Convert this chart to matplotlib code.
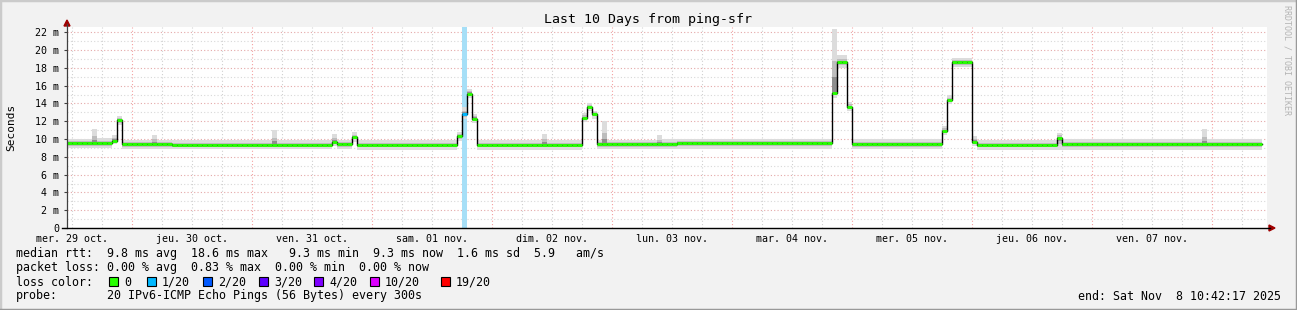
import matplotlib
matplotlib.use("Agg")
import matplotlib.pyplot as plt
import numpy as np
from matplotlib.lines import Line2D
from matplotlib.patches import Polygon, Rectangle

# hourly samples (10 days, 1 px = 12 min), stored as (value ms, hours) runs
median_runs = [
    (9.5, 9), (9.8, 1), (12.1, 1), (9.4, 10), (9.3, 32), (9.7, 1), (9.4, 3),
    (10.2, 1), (9.3, 20), (10.3, 1), (12.8, 1), (15.1, 1), (12.3, 1), (9.3, 21),
    (12.4, 1), (13.6, 1), (12.8, 1), (9.4, 16), (9.5, 31), (15.2, 1), (18.6, 2),
    (13.6, 1), (9.4, 18), (10.9, 1), (14.4, 1), (18.6, 4), (9.7, 1), (9.3, 16),
    (10.1, 1), (9.4, 40),
]
smoke_hi_runs = [
    (10.0, 5), (11.1, 1), (10.1, 3), (10.4, 1), (12.6, 1), (9.9, 6), (10.5, 1),
    (9.9, 23), (11.0, 1), (9.9, 11), (10.6, 1), (9.9, 3), (10.8, 1), (9.9, 20),
    (10.8, 1), (13.6, 1), (15.6, 1), (12.8, 1), (9.9, 13), (10.6, 1), (9.9, 7),
    (12.9, 1), (14.0, 1), (13.2, 1), (9.9, 1), (12.0, 1), (9.9, 10), (10.4, 1),
    (10.0, 34), (22.4, 1), (19.4, 2), (14.2, 1), (10.0, 18), (11.5, 1), (14.9, 1),
    (19.1, 4), (10.3, 1), (9.9, 16), (10.7, 1), (10.0, 28), (11.1, 1), (10.0, 11),
]
smoke_lo_runs = [
    (9.0, 9), (9.4, 1), (11.6, 1), (8.9, 42), (9.2, 1), (8.9, 3), (9.7, 1),
    (8.8, 20), (9.8, 1), (12.2, 1), (14.6, 1), (11.8, 1), (8.8, 21), (11.9, 1),
    (13.1, 1), (12.3, 1), (8.9, 47), (14.6, 1), (18.0, 2), (13.1, 1), (8.9, 18),
    (10.4, 1), (13.9, 1), (18.1, 4), (9.2, 1), (8.8, 57),
]
loss_hours = [79]
loss_pings = [1]

day_labels = ["mer. 29 oct.", "jeu. 30 oct.", "ven. 31 oct.", "sam. 01 nov.",
              "dim. 02 nov.", "lun. 03 nov.", "mar. 04 nov.", "mer. 05 nov.",
              "jeu. 06 nov.", "ven. 07 nov."]
loss_levels = ["0", "1/20", "2/20", "3/20", "4/20", "10/20", "19/20"]
loss_colors = ["#26ff00", "#00b8ff", "#0059ff", "#5e00ff", "#7e00ff", "#dd00ff", "#ff0000"]


def expand(runs):
    return np.concatenate([np.full(n, v) for v, n in runs])


W, H = 1297, 310
MONO = "DejaVu Sans Mono"


def fx(x):
    return x / W


def fy(y):
    return 1 - y / H


median = expand(median_runs)
hi = expand(smoke_hi_runs)
lo = expand(smoke_lo_runs)
hours = np.arange(len(median))
seg_colors = [loss_colors[0]] * len(median)
for h, n in zip(loss_hours, loss_pings):
    seg_colors[h] = loss_colors[n]

fig = plt.figure(figsize=(W / 100, H / 100), dpi=100, facecolor="#f2f2f2")
ax = fig.add_axes([fx(67), fy(228), 1200 / W, 201 / H])
ax.set_facecolor("white")
ax.set_xlim(0, 240)
ax.set_ylim(0, 201 / 8.9)
for s in ax.spines.values():
    s.set_visible(False)

# grid: minor every 6 h / 1 ms, major at midnight / every 2 ms
dot = (0, (1, 2))
for h in range(1, 240, 6):
    major = (h - 13) % 24 == 0
    ax.axvline(h, color="#f4a0a0" if major else "#d0d0d0", lw=0.8, ls=dot, zorder=0)
for v in range(1, 23):
    ax.axhline(v, color="#e4a8a8" if v % 2 == 0 else "#d8d8d8", lw=0.8, ls=dot, zorder=0)

for h in loss_hours:
    ax.axvspan(h, h + 1, color="#a6dff7", lw=0, zorder=0.5)

# smoke: light outer band, darker towards the median
mid_lo = (lo + median) / 2
mid_hi = (hi + median) / 2
core_lo = (mid_lo + median) / 2
core_hi = (mid_hi + median) / 2
ax.bar(hours, hi - lo, bottom=lo, width=1, align="edge", color="#dcdcdc", lw=0, zorder=1)
ax.bar(hours, mid_hi - mid_lo, bottom=mid_lo, width=1, align="edge", color="#bdbdbd", lw=0, zorder=1.1)
ax.bar(hours, core_hi - core_lo, bottom=core_lo, width=1, align="edge", color="#8e8e8e", lw=0, zorder=1.2)

# median
ax.step(np.arange(len(median) + 1), np.append(median, median[-1]), where="post",
        color="black", lw=1.0, zorder=2)
ax.hlines(median, hours, hours + 1, colors=seg_colors, lw=2.1, zorder=3, capstyle="butt")

ax.set_yticks(range(0, 23, 2))
ax.set_yticklabels(["0"] + [f"{v} m" for v in range(2, 23, 2)])
ax.set_xticks([1 + 24 * k for k in range(10)])
ax.set_xticklabels(day_labels)
ax.tick_params(axis="y", length=2.5, width=0.8, color="#404040", pad=3, labelsize=7.2)
ax.tick_params(axis="x", length=0, pad=4.5, labelsize=7.2)
for lab in ax.get_xticklabels() + ax.get_yticklabels():
    lab.set_fontfamily(MONO)

# axes lines and arrows
fig.add_artist(Line2D([fx(67), fx(67)], [fy(228), fy(24)], color="#404040", lw=0.9))
fig.add_artist(Line2D([fx(62), fx(1270)], [fy(228), fy(228)], color="black", lw=1.0))
fig.add_artist(Polygon([[fx(67), fy(20)], [fx(64), fy(26)], [fx(70), fy(26)]], color="#a00000"))
fig.add_artist(Polygon([[fx(1275), fy(228)], [fx(1269), fy(225)], [fx(1269), fy(231)]], color="#a00000"))

# frame
fig.add_artist(Line2D([0, 0, 1], [0, 1, 1], color="#cbcbcb", lw=2.5))
fig.add_artist(Line2D([0, 1, 1], [0, 0, 1], color="#999999", lw=2.5))

fig.text(fx(648), fy(19), "Last 10 Days from ping-sfr", ha="center", va="center",
         family=MONO, fontsize=9.5)
fig.text(fx(11), fy(127), "Seconds", rotation=90, ha="center", va="center",
         family=MONO, fontsize=8)
fig.text(fx(1287), fy(5), "RRDTOOL / TOBI OETIKER", rotation=270, ha="center", va="top",
         family=MONO, fontsize=6, color="#b4b4b4")

leg = dict(family=MONO, fontsize=8.4, va="center", ha="left")
fig.text(fx(16), fy(254), "median rtt:  9.8 ms avg  18.6 ms max   9.3 ms min  9.3 ms now  1.6 ms sd  5.9   am/s", **leg)
fig.text(fx(16), fy(268), "packet loss: 0.00 % avg  0.83 % max  0.00 % min  0.00 % now", **leg)
fig.text(fx(16), fy(282), "loss color:", **leg)
box_x = [109, 147, 203, 259, 314, 370, 441]
for bx, lab, col in zip(box_x, loss_levels, loss_colors):
    fig.add_artist(Rectangle((fx(bx), fy(286)), 9 / W, 9 / H, facecolor=col,
                             edgecolor="black", lw=0.8))
    fig.text(fx(bx + 15), fy(282), lab, **leg)
fig.text(fx(16), fy(296), "probe:", **leg)
fig.text(fx(107), fy(296), "20 IPv6-ICMP Echo Pings (56 Bytes) every 300s", **leg)
fig.text(fx(1281), fy(296), "end: Sat Nov  8 10:42:17 2025", **dict(leg, ha="right"))

fig.savefig("out.png", dpi=100, facecolor=fig.get_facecolor())
